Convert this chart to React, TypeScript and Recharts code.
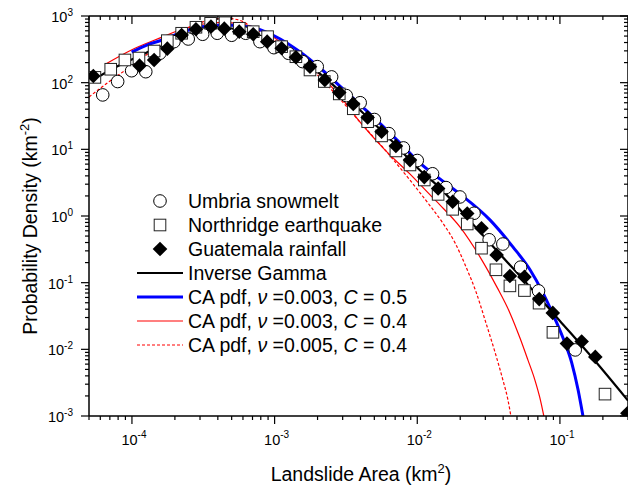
import { ComposedChart, Line, Scatter, XAxis, YAxis } from "recharts";

// chart is pulled over the body margin so svg coords == page coords
const W = 636;
const H = 487;
const PLOT_LEFT = 89;
const PLOT_RIGHT = 628;
const PLOT_TOP = 16;
const PLOT_BOTTOM = 416;
const FONT = "'Liberation Sans', Arial, Helvetica, sans-serif";

const X_DOMAIN: [number, number] = [5e-5, 0.3];
const Y_DOMAIN: [number, number] = [1e-3, 1e3];
const xDecades = [1e-5, 1e-4, 1e-3, 1e-2, 1e-1];
const yDecades = [1e-3, 1e-2, 1e-1, 1, 10, 100];

// Umbria snowmelt (open circles)
const umbriaArea = [
  6.24e-5, 7.94e-5, 9.95e-5, 1.25e-4, 1.57e-4, 1.97e-4, 2.48e-4, 3.13e-4, 3.96e-4, 5.0e-4,
  6.27e-4, 7.89e-4, 9.89e-4, 1.25e-3, 1.57e-3, 1.99e-3, 2.51e-3, 3.18e-3, 3.98e-3, 5.01e-3,
  6.32e-3, 8.0e-3, 1.0e-2, 1.28e-2, 1.59e-2, 1.99e-2, 2.5e-2, 3.19e-2, 3.98e-2, 5.3e-2,
  7.08e-2, 0.128,
];
const umbriaDensity = [
  65.5, 104, 151, 146, 276, 412, 452, 532, 551, 514,
  551, 412, 335, 276, 207, 174, 122, 64, 50, 28,
  17.2, 10.5, 6.8, 4.3, 2.67, 1.93, 1.1, 0.44, 0.38, 0.171,
  0.0753, 0.0098,
];

// Northridge earthquake (open squares)
const northridgeArea = [
  5.5e-5, 7.1e-5, 8.93e-5, 1.12e-4, 1.43e-4, 1.77e-4, 2.23e-4, 2.81e-4, 3.56e-4, 4.49e-4,
  5.65e-4, 7.08e-4, 8.93e-4, 1.12e-3, 1.41e-3, 1.77e-3, 2.23e-3, 2.84e-3, 3.56e-3, 4.49e-3,
  5.62e-3, 7.08e-3, 8.89e-3, 1.12e-2, 1.4e-2, 1.77e-2, 2.24e-2, 2.82e-2, 3.56e-2, 4.46e-2,
  5.64e-2, 7.14e-2, 8.93e-2, 0.207,
];
const northridgeDensity = [
  120, 159, 219, 234, 298, 427, 551, 678, 778, 794,
  655, 582, 490, 347, 245, 155, 104, 67.8, 40.6, 26,
  15.9, 9.46, 5.83, 3.47, 2.11, 1.26, 0.759, 0.329, 0.156, 0.0895,
  0.0762, 0.0493, 0.018, 0.00213,
];

// Guatemala rainfall (filled diamonds)
const guatemalaArea = [
  5.36e-5, 1.13e-4, 1.43e-4, 1.77e-4, 2.23e-4, 2.81e-4, 3.58e-4, 4.44e-4, 5.65e-4, 7.08e-4,
  8.87e-4, 1.12e-3, 1.41e-3, 1.77e-3, 2.25e-3, 2.84e-3, 3.56e-3, 4.49e-3, 5.62e-3, 7.08e-3,
  8.89e-3, 1.12e-2, 1.4e-2, 1.77e-2, 2.24e-2, 2.82e-2, 3.6e-2, 4.46e-2, 5.64e-2, 7.16e-2,
  8.91e-2, 0.112, 0.142, 0.177, 0.297,
];
const guatemalaDensity = [
  126, 180, 219, 324, 519, 632, 692, 646, 582, 532,
  412, 328, 240, 174, 110, 71, 48, 30, 18.4, 11.2,
  6.9, 3.83, 2.58, 1.64, 1.09, 0.656, 0.261, 0.126, 0.122, 0.0567,
  0.0352, 0.0122, 0.0131, 0.0077, 0.0011,
];

// Inverse Gamma fit (black)
const invGammaArea = [
  5.0e-5, 6.47e-5, 8.24e-5, 1.05e-4, 1.34e-4, 1.71e-4, 2.17e-4, 2.77e-4, 3.52e-4, 4.49e-4,
  5.71e-4, 7.28e-4, 9.27e-4, 1.18e-3, 1.51e-3, 2.44e-3, 3.96e-3, 6.43e-3, 1.04e-2, 1.44e-2,
  2.34e-2, 3.79e-2, 6.15e-2, 0.1, 0.162, 0.3,
];
const invGammaDensity = [
  102, 140, 184, 234, 298, 367, 468, 556, 638, 661,
  617, 537, 436, 331, 234, 102, 39, 14.3, 4.91, 2.64,
  0.845, 0.27, 0.0865, 0.0267, 0.00827, 0.0017,
];

// CA pdf, nu = 0.003, C = 0.5 (blue)
const caBlueArea = [
  9.95e-5, 1.27e-4, 1.63e-4, 2.0e-4, 3.0e-4, 4.49e-4, 6.71e-4, 1.0e-3, 1.51e-3, 2.08e-3,
  2.87e-3, 4.66e-3, 7.55e-3, 1.04e-2, 1.44e-2, 1.99e-2, 3.23e-2, 4.68e-2, 6.17e-2, 7.6e-2,
  9.23e-2, 0.105, 0.121, 0.134, 0.145,
];
const caBlueDensity = [
  288, 367, 436, 519, 684, 733, 684, 501, 288, 166,
  89, 34, 12.5, 6.25, 3.6, 2.14, 0.875, 0.344, 0.156, 0.0703,
  0.0287, 0.0149, 0.00628, 0.00247, 0.001,
];

// CA pdf, nu = 0.003, C = 0.4 (red solid)
const caRedArea = [
  6.64e-5, 9.68e-5, 1.66e-4, 2.17e-4, 3.0e-4, 4.35e-4, 6.4e-4, 8.83e-4, 1.22e-3, 1.86e-3,
  2.87e-3, 3.96e-3, 5.93e-3, 8.87e-3, 1.23e-2, 1.44e-2, 1.99e-2, 2.75e-2, 3.61e-2, 4.46e-2,
  5.24e-2, 5.96e-2, 6.67e-2, 7.23e-2, 7.71e-2,
];
const caRedDensity = [
  194, 302, 490, 617, 746, 800, 733, 556, 343, 166,
  63, 25.8, 9.8, 4.28, 2.07, 1.47, 0.687, 0.244, 0.0865, 0.0352,
  0.0149, 0.00696, 0.00349, 0.00188, 0.001,
];

// CA pdf, nu = 0.005, C = 0.4 (red dashed)
const caRedDashArea = [
  5.0e-5, 7.02e-5, 1.05e-4, 1.57e-4, 2.17e-4, 3.0e-4, 3.52e-4, 4.61e-4, 6.03e-4, 7.08e-4,
  8.79e-4, 1.22e-3, 1.86e-3, 2.87e-3, 3.96e-3, 6.03e-3, 8.87e-3, 1.23e-2, 1.49e-2, 1.84e-2,
  2.21e-2, 2.58e-2, 3.03e-2, 3.5e-2, 3.98e-2, 4.32e-2, 4.53e-2,
];
const caRedDashDensity = [
  61, 106, 194, 367, 575, 785, 887, 925, 822, 654,
  519, 309, 150, 57, 25.8, 9.46, 3.47, 1.42, 0.817, 0.395,
  0.167, 0.0728, 0.0249, 0.00918, 0.00349, 0.00175, 0.001,
];

const toPoints = (xs: number[], ys: number[]) => xs.map((x, i) => ({ x, y: ys[i] }));

const umbria = toPoints(umbriaArea, umbriaDensity);
const northridge = toPoints(northridgeArea, northridgeDensity);
const guatemala = toPoints(guatemalaArea, guatemalaDensity);
const invGamma = toPoints(invGammaArea, invGammaDensity);
const caBlue = toPoints(caBlueArea, caBlueDensity);
const caRed = toPoints(caRedArea, caRedDensity);
const caRedDash = toPoints(caRedDashArea, caRedDashDensity);

const inDomain = (v: number, [lo, hi]: [number, number]) => v >= lo * 0.9999 && v <= hi * 1.0001;
const multiples = [1, 2, 3, 4, 5, 6, 7, 8, 9];
const xTicks = xDecades.flatMap((d) => multiples.map((m) => m * d)).filter((v) => inDomain(v, X_DOMAIN));
const yTicks = [...yDecades.flatMap((d) => multiples.map((m) => m * d)), 1000].filter((v) => inDomain(v, Y_DOMAIN));

const exponentOf = (v: number) => Math.round(Math.log10(v));
const isMajor = (v: number) => Math.abs(Math.log10(v) - exponentOf(v)) < 1e-6;
const tickLen = (v: number) => (isMajor(v) ? 8 : 4);

const BottomTick = ({ x, payload }: any) => {
  const v = payload.value;
  return (
    <g>
      <line x1={x} x2={x} y1={PLOT_BOTTOM} y2={PLOT_BOTTOM + tickLen(v)} stroke="#000" strokeWidth={1.2} />
      {isMajor(v) && (
        <text x={x + 2} y={PLOT_BOTTOM + 29} textAnchor="middle" fontFamily={FONT} fontSize={14.5} fill="#000">
          10
          <tspan dy={-7} fontSize={10}>
            {exponentOf(v)}
          </tspan>
        </text>
      )}
    </g>
  );
};

const TopTick = ({ x, payload }: any) => (
  <line x1={x} x2={x} y1={PLOT_TOP} y2={PLOT_TOP + tickLen(payload.value)} stroke="#000" strokeWidth={1.2} />
);

const LeftTick = ({ y, payload }: any) => {
  const v = payload.value;
  return (
    <g>
      <line x1={PLOT_LEFT - tickLen(v)} x2={PLOT_LEFT} y1={y} y2={y} stroke="#000" strokeWidth={1.2} />
      {isMajor(v) && (
        <text x={PLOT_LEFT - 16} y={y + 6} textAnchor="end" fontFamily={FONT} fontSize={14.5} fill="#000">
          10
          <tspan dy={-6} fontSize={10}>
            {exponentOf(v)}
          </tspan>
        </text>
      )}
    </g>
  );
};

const RightTick = ({ y, payload }: any) => (
  <line x1={PLOT_RIGHT - tickLen(payload.value)} x2={PLOT_RIGHT} y1={y} y2={y} stroke="#000" strokeWidth={1.2} />
);

const OpenCircle = ({ cx, cy }: any) => <circle cx={cx} cy={cy} r={6.3} fill="#fff" stroke="#000" strokeWidth={1} />;
const OpenSquare = ({ cx, cy }: any) => (
  <rect x={cx - 5.8} y={cy - 5.8} width={11.6} height={11.6} fill="#fff" stroke="#222" strokeWidth={1} />
);
const FilledDiamond = ({ cx, cy }: any) => (
  <path d={`M${cx},${cy - 7.3}L${cx + 7.3},${cy}L${cx},${cy + 7.3}L${cx - 7.3},${cy}Z`} fill="#000" />
);

const axisLine = { stroke: "#000", strokeWidth: 1.5 };

function LegendBox() {
  const x0 = 160;
  const tx = 188;
  const rows = [201, 225, 249, 273, 297, 321, 345];
  const textProps = { fontFamily: FONT, fontSize: 19.5, fill: "#000" };
  const caLabel = (nu: string, c: string) => (
    <>
      CA pdf,{" "}
      <tspan fontStyle="italic">ν</tspan> ={nu}, <tspan fontStyle="italic">C</tspan> = {c}
    </>
  );
  return (
    <g>
      <circle cx={x0} cy={rows[0]} r={6.3} fill="#fff" stroke="#000" />
      <text x={tx} y={rows[0] + 7} {...textProps}>Umbria snowmelt</text>
      <rect x={x0 - 5.8} y={rows[1] - 5.8} width={11.6} height={11.6} fill="#fff" stroke="#222" />
      <text x={tx} y={rows[1] + 7} {...textProps}>Northridge earthquake</text>
      <path d={`M${x0},${rows[2] - 7.3}L${x0 + 7.3},${rows[2]}L${x0},${rows[2] + 7.3}L${x0 - 7.3},${rows[2]}Z`} fill="#000" />
      <text x={tx} y={rows[2] + 7} {...textProps}>Guatemala rainfall</text>
      <line x1={137} x2={183} y1={rows[3]} y2={rows[3]} stroke="#000" strokeWidth={2.2} />
      <text x={tx} y={rows[3] + 7} {...textProps}>Inverse Gamma</text>
      <line x1={137} x2={183} y1={rows[4]} y2={rows[4]} stroke="#0000ff" strokeWidth={3} />
      <text x={tx} y={rows[4] + 7} {...textProps}>{caLabel("0.003", "0.5")}</text>
      <line x1={137} x2={183} y1={rows[5]} y2={rows[5]} stroke="#ff0000" strokeWidth={1.2} />
      <text x={tx} y={rows[5] + 7} {...textProps}>{caLabel("0.003", "0.4")}</text>
      <line x1={137} x2={183} y1={rows[6]} y2={rows[6]} stroke="#ff0000" strokeWidth={1.2} strokeDasharray="3 2" />
      <text x={tx} y={rows[6] + 7} {...textProps}>{caLabel("0.005", "0.4")}</text>
    </g>
  );
}

export default function App() {
  return (
    <div style={{ position: "relative", width: W, height: H, margin: "-8px 0 0 -8px", background: "#fff" }}>
      <ComposedChart width={W} height={H} margin={{ top: 8, right: 0, bottom: 0, left: 29 }}>
        <XAxis
          dataKey="x"
          type="number"
          scale="log"
          domain={X_DOMAIN}
          allowDataOverflow
          ticks={xTicks}
          interval={0}
          height={71}
          axisLine={axisLine}
          tickLine={false}
          tick={BottomTick}
        />
        <XAxis
          xAxisId="top"
          orientation="top"
          dataKey="x"
          type="number"
          scale="log"
          domain={X_DOMAIN}
          allowDataOverflow
          ticks={xTicks}
          interval={0}
          height={8}
          axisLine={axisLine}
          tickLine={false}
          tick={TopTick}
        />
        <YAxis
          dataKey="y"
          type="number"
          scale="log"
          domain={Y_DOMAIN}
          allowDataOverflow
          ticks={yTicks}
          interval={0}
          width={60}
          axisLine={axisLine}
          tickLine={false}
          tick={LeftTick}
        />
        <YAxis
          yAxisId="right"
          orientation="right"
          dataKey="y"
          type="number"
          scale="log"
          domain={Y_DOMAIN}
          allowDataOverflow
          ticks={yTicks}
          interval={0}
          width={8}
          axisLine={axisLine}
          tickLine={false}
          tick={RightTick}
        />
        <Scatter data={umbria} shape={OpenCircle} isAnimationActive={false} />
        <Scatter data={northridge} shape={OpenSquare} isAnimationActive={false} />
        <Scatter data={guatemala} shape={FilledDiamond} isAnimationActive={false} />
        <Line data={caRedDash} dataKey="y" type="monotone" stroke="#ff0000" strokeWidth={1.2} strokeDasharray="3 2" dot={false} isAnimationActive={false} />
        <Line data={caRed} dataKey="y" type="monotone" stroke="#ff0000" strokeWidth={1.2} dot={false} isAnimationActive={false} />
        <Line data={caBlue} dataKey="y" type="monotone" stroke="#0000ff" strokeWidth={3} dot={false} isAnimationActive={false} />
        <Line data={invGamma} dataKey="y" type="monotone" stroke="#000" strokeWidth={2.2} dot={false} isAnimationActive={false} />
      </ComposedChart>
      <svg width={W} height={H} style={{ position: "absolute", left: 0, top: 0, pointerEvents: "none" }}>
        <LegendBox />
        <text transform="translate(37,226) rotate(-90)" textAnchor="middle" fontFamily={FONT} fontSize={19.5} fill="#000">
          Probability Density (km
          <tspan dy={-8} fontSize={13}>-2</tspan>
          <tspan dy={8}>)</tspan>
        </text>
        <text x={361} y={481} textAnchor="middle" fontFamily={FONT} fontSize={19.5} fill="#000">
          Landslide Area (km
          <tspan dy={-8} fontSize={13}>2</tspan>
          <tspan dy={8}>)</tspan>
        </text>
      </svg>
    </div>
  );
}
